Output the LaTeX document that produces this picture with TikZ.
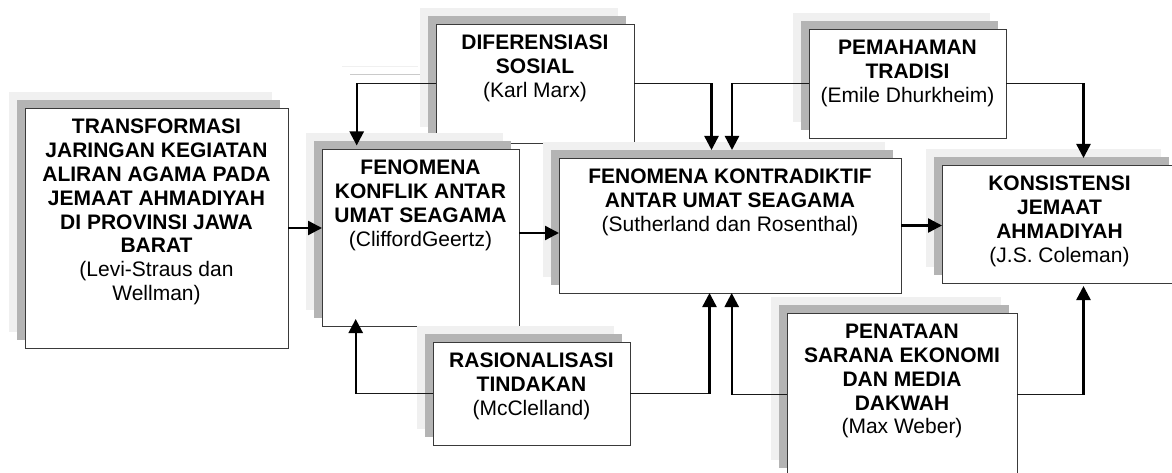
\documentclass[tikz,border=0pt]{standalone}
\usepackage{fontspec}
\setmainfont{Liberation Sans}
\usetikzlibrary{arrows.meta,calc,fit}
\definecolor{shlight}{HTML}{F0F0F0}
\definecolor{shdark}{HTML}{B4B4B4}
\definecolor{edge}{HTML}{3A3A3A}
\tikzset{
  box/.style={draw=edge, line width=0.9pt, fill=white, inner sep=0pt, outer sep=0pt},
  txt/.style={font=\fontsize{21}{23.8}\selectfont, align=center, inner sep=0pt, anchor=north},
  conn/.style={line width=1pt, draw=black!90},
  thickarr/.style={line width=2.4pt, draw=black, -{Triangle[length=14pt,width=14pt]}},
}
\newcommand\shbox[5]{%
  \fill[shlight] ({#2-16},{#3-16}) rectangle ({#4-16},{#5-16});
  \fill[shdark] ({#2-8},{#3-8}) rectangle ({#4-8},{#5-8});
  \node[box, fit={(#2,#3)(#4,#5)}] (#1) {};
}
\begin{document}
\begin{tikzpicture}[x=1pt,y=-1pt]
\useasboundingbox (0,0) rectangle (1172,473);
\clip (0,0) rectangle (1172,473);
\fill[white] (0,0) rectangle (1172,473);

% faint shadows of the B->C connector
\draw[line width=1pt, shlight] (342,67) -- (418,67);
\draw[line width=1pt, shdark!70] (350,75) -- (427,75);

\shbox{A}{25}{108}{288}{348}
\shbox{B}{436}{24}{634}{143}
\shbox{C}{322}{149}{519}{326}
\shbox{D}{559}{158}{901}{293}
\shbox{E}{809}{29}{1006}{138}
\shbox{F}{942}{165}{1177}{283}
\shbox{G}{433}{342}{630}{445}
\shbox{H}{787}{313}{1017}{476}

\node[txt] (At) at ([yshift=-11pt]A.north) {\textbf{TRANSFORMASI}\\\textbf{JARINGAN KEGIATAN}\\\textbf{ALIRAN AGAMA PADA}\\\textbf{JEMAAT AHMADIYAH}\\\textbf{DI PROVINSI JAWA}\\\textbf{BARAT}\\(Levi-Straus dan\\Wellman)};
\node[txt] (Bt) at ([yshift=-11pt]B.north) {\textbf{DIFERENSIASI}\\\textbf{SOSIAL}\\(Karl Marx)};
\node[txt] (Ct) at ([yshift=-11pt]C.north) {\textbf{FENOMENA}\\\textbf{KONFLIK ANTAR}\\\textbf{UMAT SEAGAMA}\\(CliffordGeertz)};
\node[txt] (Dt) at ([yshift=-11pt]D.north) {\textbf{FENOMENA KONTRADIKTIF}\\\textbf{ANTAR UMAT SEAGAMA}\\(Sutherland dan Rosenthal)};
\node[txt] (Et) at ([yshift=-11pt]E.north) {\textbf{PEMAHAMAN}\\\textbf{TRADISI}\\(Emile Dhurkheim)};
\node[txt] (Ft) at ([yshift=-11pt]F.north) {\textbf{KONSISTENSI}\\\textbf{JEMAAT}\\\textbf{AHMADIYAH}\\(J.S. Coleman)};
\node[txt] (Gt) at ([yshift=-11pt]G.north) {\textbf{RASIONALISASI}\\\textbf{TINDAKAN}\\(McClelland)};
\node[txt] (Ht) at ([yshift=-11pt]H.north) {\textbf{PENATAAN}\\\textbf{SARANA EKONOMI}\\\textbf{DAN MEDIA}\\\textbf{DAKWAH}\\(Max Weber)};

% straight arrows
\draw[thickarr] (A.east) -- (A.east -| C.west);
\draw[thickarr] ([yshift=4.5pt]C.east) -- ([yshift=4.5pt]C.east -| D.west);
\draw[thickarr] (D.east) -- (D.east -| F.west);

% B -> C
\coordinate (bc) at ($(C.north west)+(34.7,0)$);
\draw[conn] (B.west) -- (B.west -| bc);
\draw[thickarr, shorten >=3.5pt] (B.west -| bc) -- (bc);
% B -> D
\coordinate (bd) at ($(D.north west)+(152.5,0)$);
\draw[conn] (B.east) -- (B.east -| bd);
\draw[thickarr, shorten >=8pt] (B.east -| bd) -- (bd);
% E -> D
\coordinate (ed) at ($(D.north west)+(173,0)$);
\draw[conn] (E.west) -- (E.west -| ed);
\draw[thickarr, shorten >=8pt] (E.west -| ed) -- (ed);
% E -> F
\coordinate (ef) at ($(F.north west)+(141.5,0)$);
\draw[conn] (E.east) -- (E.east -| ef);
\draw[thickarr, shorten >=7pt] (E.east -| ef) -- (ef);
% G -> C
\coordinate (gc) at ($(C.south west)+(33.7,0)$);
\draw[conn] (G.west) -- (G.west -| gc);
\draw[thickarr, shorten >=-7pt] (G.west -| gc) -- (gc);
% G -> D
\coordinate (gd) at ($(D.south west)+(150.5,0)$);
\draw[conn] (G.east) -- (G.east -| gd);
\draw[thickarr] (G.east -| gd) -- (gd);
% H -> D
\coordinate (hd) at ($(D.south west)+(172.7,0)$);
\draw[conn] (H.west) -- (H.west -| hd);
\draw[thickarr] (H.west -| hd) -- (hd);
% H -> F
\coordinate (hf) at ($(F.south west)+(141.5,0)$);
\draw[conn] (H.east) -- (H.east -| hf);
\draw[thickarr, shorten >=3pt] (H.east -| hf) -- (hf);
\end{tikzpicture}
\end{document}
